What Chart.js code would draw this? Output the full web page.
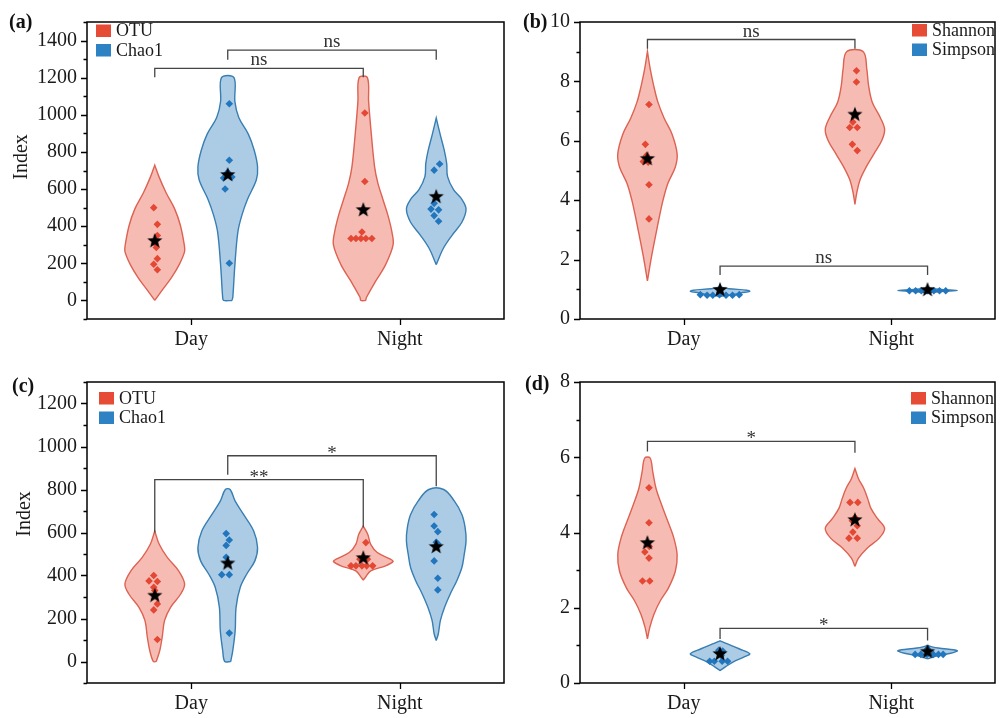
<!DOCTYPE html>
<html>
<head>
<meta charset="utf-8">
<script src="https://cdn.jsdelivr.net/npm/chart.js@4.4.0/dist/chart.umd.min.js"></script>
<style>
  body { margin: 0; background: #fff; width: 1001px; height: 718px; overflow: hidden; position: relative; }
  .panel { position: absolute; }
</style>
</head>
<body>
<div class="panel" style="left:0;top:0"><canvas id="pa" width="510" height="360"></canvas></div>
<div class="panel" style="left:510px;top:0"><canvas id="pb" width="491" height="360"></canvas></div>
<div class="panel" style="left:0;top:360px"><canvas id="pc" width="510" height="358"></canvas></div>
<div class="panel" style="left:510px;top:360px"><canvas id="pd" width="491" height="358"></canvas></div>
<script>
// groups on the x axis and the two series of each panel
const groups = ["Day", "Night"];
const richSeries = ["OTU", "Chao1"];
const divSeries = ["Shannon", "Simpson"];

// every panel: order of violins = [series1 Day, series2 Day, series1 Night, series2 Night]

// (a)
const aLevels = [
  [0, 62, 123, 193, 263, 299, 404, 492, 580, 667, 729],
  [0, 17, 193, 369, 457, 544, 650, 720, 808, 896, 985, 1071, 1200],
  [0, 17, 105, 193, 299, 369, 457, 544, 632, 720, 896, 1071, 1200],
  [193, 281, 351, 421, 492, 544, 597, 667, 738, 808, 896, 983]
];
const aWidths = [
  [0, 0.28, 0.56, 0.82, 1.0, 0.99, 0.86, 0.67, 0.38, 0.14, 0],
  [0.14, 0.17, 0.24, 0.34, 0.47, 0.66, 0.96, 1.0, 0.89, 0.69, 0.37, 0.24, 0.21],
  [0.08, 0.11, 0.42, 0.75, 1.0, 0.96, 0.83, 0.66, 0.49, 0.38, 0.27, 0.18, 0.14],
  [0, 0.24, 0.53, 0.86, 1.0, 0.86, 0.58, 0.38, 0.35, 0.27, 0.13, 0]
];
const aPoints = [
  [500, 410, 350, 310, 285, 225, 195, 165],
  [1060, 755, 690, 675, 665, 660, 600, 200],
  [1010, 641, 369, 334, 334, 334, 334, 334],
  [735, 702, 560, 523, 492, 488, 457, 427]
];
const aJitter = [
  [-0.2, 0.5, 0.5, 0, 0.3, 0.5, -0.2, 0.5],
  [0.3, 0.3, 0, -0.3, 0.8, -0.8, -0.5, 0.3],
  [0.3, 0.3, -0.25, -2.35, -1.4, -0.45, 0.5, 1.65],
  [0.65, -0.4, 0, -0.4, -1, 0.45, -0.4, 0.45]
];
const aMeans = [320, 676, 487, 558];
const aBracketTop = [1250, 1349];
const aBracketLegs = [[1203, 1203], [1296, 1296]];
const aSig = ["ns", "ns"];

// (b)
const bLevels = [
  [1.28, 1.83, 2.38, 2.93, 3.48, 4.02, 4.57, 5.12, 5.56, 6.22, 6.77, 7.31, 7.86, 8.41, 9.01],
  [0.76, 0.82, 0.88, 0.93, 0.97, 1.02, 1.08],
  [3.86, 4.24, 4.68, 5.12, 5.56, 6.0, 6.38, 6.77, 7.31, 7.86, 8.41, 9.0],
  [0.89, 0.93, 0.96, 0.99, 1.03]
];
const bWidths = [
  [0, 0.09, 0.19, 0.3, 0.41, 0.53, 0.69, 0.94, 1.0, 0.83, 0.56, 0.35, 0.21, 0.095, 0],
  [0, 0.45, 0.7, 1.0, 0.9, 0.3, 0],
  [0, 0.06, 0.17, 0.38, 0.64, 0.9, 1.0, 0.86, 0.58, 0.46, 0.4, 0.28],
  [0, 0.55, 1.0, 0.55, 0]
];
const bPoints = [
  [7.22, 5.88, 5.5, 5.35, 5.3, 5.28, 4.52, 3.37],
  [0.82, 0.8, 0.8, 0.82, 0.8, 0.8, 0.82, 0.9],
  [8.36, 7.98, 6.9, 6.63, 6.45, 6.45, 5.88, 5.67],
  [0.95, 0.95, 0.95, 0.95, 0.95, 0.95, 0.95, 1.0]
];
const bJitter = [
  [0.3, -0.4, -0.2, 0, -0.8, 0.15, 0.3, 0.3],
  [-3.8, -2.5, -1.4, -0.1, 1.15, 2.4, 3.7, 0],
  [0.3, 0.3, 0, -0.4, -1, 0.45, -0.5, 0.45],
  [-3.5, -2.3, -1.2, 0, 1.2, 2.3, 3.5, 0]
];
const bMeans = [5.39, 0.98, 6.88, 0.98];
const bBracketTop = [9.41, 1.78];
const bBracketLegs = [[9.1, 9.1], [1.48, 1.48]];
const bSig = ["ns", "ns"];

// (c)
const cLevels = [
  [0, 52, 114, 191, 252, 314, 361, 422, 484, 545, 607],
  [0, 52, 145, 252, 345, 407, 468, 530, 607, 684, 746, 800],
  [379, 391, 422, 445, 465, 476, 507, 545, 592, 630],
  [98, 129, 191, 252, 314, 376, 437, 499, 561, 622, 684, 746, 800]
];
const cWidths = [
  [0.05, 0.17, 0.25, 0.33, 0.53, 0.87, 1.0, 0.8, 0.42, 0.15, 0],
  [0.1, 0.17, 0.25, 0.28, 0.42, 0.64, 0.91, 1.0, 0.87, 0.53, 0.25, 0.08],
  [0, 0.07, 0.25, 0.75, 1.0, 0.91, 0.47, 0.25, 0.15, 0],
  [0, 0.07, 0.14, 0.28, 0.47, 0.69, 0.86, 0.94, 1.0, 0.97, 0.86, 0.61, 0.25]
];
const cPoints = [
  [400, 375, 372, 345, 330, 268, 240, 102],
  [595, 565, 540, 485, 460, 404, 404, 132],
  [553, 476, 476, 445, 445, 445, 445, 445],
  [684, 630, 604, 555, 548, 468, 387, 333]
];
const cJitter = [
  [-0.2, -1.1, 0.5, -0.2, 0, 0.5, -0.2, 0.5],
  [-0.3, 0.3, -0.3, -0.3, 0, -1.15, 0.3, 0.3],
  [0.5, -0.65, 0.8, -2.35, -1.4, -0.25, 0.65, 1.8],
  [-0.4, -0.4, 0.3, 0, 0.3, -0.4, 0.3, 0.3]
];
const cMeans = [306, 456, 481, 533];
const cBracketTop = [846, 957];
const cBracketLegs = [[600, 625], [869, 815]];
const cSig = ["**", "*"];

// (d)
const dLevels = [
  [1.17, 1.48, 1.83, 2.18, 2.53, 2.97, 3.41, 3.85, 4.29, 4.73, 5.17, 5.61, 5.98],
  [0.33, 0.44, 0.55, 0.69, 0.78, 0.91, 1.04, 1.12],
  [3.1, 3.32, 3.59, 3.85, 4.11, 4.38, 4.64, 4.9, 5.17, 5.43, 5.7],
  [0.64, 0.73, 0.79, 0.86, 0.93, 0.99]
];
const dWidths = [
  [0, 0.08, 0.22, 0.43, 0.71, 0.94, 1.0, 0.89, 0.69, 0.48, 0.29, 0.18, 0.09],
  [0, 0.2, 0.42, 0.8, 1.0, 0.64, 0.25, 0],
  [0, 0.12, 0.42, 0.82, 1.0, 0.75, 0.54, 0.43, 0.3, 0.12, 0],
  [0, 0.36, 0.78, 1.0, 0.36, 0]
];
const dPoints = [
  [5.19, 4.26, 3.7, 3.63, 3.48, 3.32, 2.71, 2.71],
  [0.87, 0.85, 0.78, 0.73, 0.58, 0.58, 0.58, 0.58],
  [4.8, 4.8, 4.4, 4.31, 4.18, 4.01, 3.85, 3.85],
  [0.91, 0.87, 0.76, 0.76, 0.76, 0.76, 0.76, 0.76]
];
const dJitter = [
  [0.3, 0.3, 0, 0.35, -0.5, 0.3, -0.95, 0.45],
  [-0.25, 0.5, 0, 0.2, -2, -1.1, 0.4, 1.45],
  [-0.95, 0.55, 0, -0.5, 0.45, -0.4, -1.15, 0.45],
  [0, 0, -2.4, -1.3, -0.1, 1.1, 2.1, 3.0]
];
const dMeans = [3.72, 0.77, 4.33, 0.83];
const dBracketTop = [6.42, 1.45];
const dBracketLegs = [[6.15, 6.12], [1.17, 1.13]];
const dSig = ["*", "*"];

// ---- drawing ----
const OFFSET = 0.175;  // violin centre offset from the group tick
const HALF = 0.143;    // widest half width of a violin, in x units
const JIT = 0.025;     // one step of point dodge
const SERIF = "'Liberation Serif', 'Times New Roman', serif";

const RED = { fill: "rgba(236,112,96,0.47)", line: "rgb(221,98,82)", dot: "rgb(228,72,52)", key: "rgb(230,75,53)" };
const BLUE = { fill: "rgba(70,142,200,0.45)", line: "rgb(56,126,178)", dot: "rgb(33,118,190)", key: "rgb(45,130,195)" };

Chart.defaults.font.family = SERIF;
Chart.defaults.font.size = 20;
Chart.defaults.color = "#1a1a1a";

function starImage(r) {
  const c = document.createElement("canvas");
  const s = Math.ceil(r * 2 + 2);
  c.width = s; c.height = s;
  const g = c.getContext("2d");
  g.beginPath();
  for (let i = 0; i < 10; i++) {
    const a = -Math.PI / 2 + i * Math.PI / 5;
    const rr = i % 2 ? r * 0.42 : r;
    g.lineTo(s / 2 + rr * Math.cos(a), s / 2 + rr * Math.sin(a));
  }
  g.closePath();
  g.fillStyle = "#000";
  g.fill();
  return c;
}
const STAR = starImage(8);

function isMajor(v, major) {
  const q = v / major;
  return Math.abs(q - Math.round(q)) < 1e-6;
}

function makePanel(id, p) {
  const datasets = [];

  for (let k = 0; k < 4; k++) {
    const s = k % 2;
    const g = Math.floor(k / 2) + 1;
    const cx = g + (s ? OFFSET : -OFFSET);
    const col = s ? BLUE : RED;
    const lv = p.levels[k], wd = p.widths[k];

    // outline: right side upwards, left side downwards, closed
    const outline = [];
    lv.forEach((y, i) => outline.push({ x: cx + wd[i] * HALF, y: y }));
    for (let i = lv.length - 1; i >= 0; i--) outline.push({ x: cx - wd[i] * HALF, y: lv[i] });
    outline.push(outline[0]);

    datasets.push({
      data: outline, borderColor: col.line, backgroundColor: col.fill,
      borderWidth: 1.4, fill: "shape", tension: 0.35, pointRadius: 0, order: 5
    });
    datasets.push({
      data: p.points[k].map((y, i) => ({ x: cx + p.jitter[k][i] * JIT, y: y })),
      showLine: false, pointStyle: "rectRot", pointRadius: 3.8,
      pointBackgroundColor: col.dot, pointBorderWidth: 0, order: 3
    });
    datasets.push({
      data: [{ x: cx, y: p.means[k] }],
      showLine: false, pointStyle: STAR, pointRadius: 5, order: 1
    });
  }

  // significance brackets between Day and Night of the same series
  p.bracketTop.forEach((top, s) => {
    const x1 = 1 + (s ? OFFSET : -OFFSET);
    const x2 = 2 + (s ? OFFSET : -OFFSET);
    datasets.push({
      data: [{ x: x1, y: p.bracketLegs[s][0] }, { x: x1, y: top }, { x: x2, y: top }, { x: x2, y: p.bracketLegs[s][1] }],
      borderColor: "#454545", borderWidth: 1.3, pointRadius: 0, fill: false, tension: 0, order: 4
    });
  });

  const decor = {
    id: "decor",
    afterDatasetsDraw(chart) {
      const ctx = chart.ctx;
      const a = chart.chartArea;
      const xs = chart.scales.x, ys = chart.scales.y;
      ctx.save();

      // frame
      ctx.strokeStyle = "#000";
      ctx.lineWidth = 1.5;
      ctx.strokeRect(a.left, a.top, a.right - a.left, a.bottom - a.top);

      // tick marks, outward
      ctx.lineWidth = 1.3;
      ctx.beginPath();
      ys.ticks.forEach(t => {
        const y = Math.round(ys.getPixelForValue(t.value)) + 0.5;
        const len = isMajor(t.value, p.major) ? 6 : 3.5;
        ctx.moveTo(a.left, y);
        ctx.lineTo(a.left - len, y);
      });
      xs.ticks.forEach(t => {
        const x = Math.round(xs.getPixelForValue(t.value)) + 0.5;
        ctx.moveTo(x, a.bottom);
        ctx.lineTo(x, a.bottom + 6);
      });
      ctx.stroke();

      // significance labels
      ctx.fillStyle = "#333";
      ctx.font = "19px " + SERIF;
      ctx.textAlign = "center";
      ctx.textBaseline = "alphabetic";
      p.sig.forEach((txt, s) => {
        const xm = 1.5 + (s ? OFFSET : -OFFSET);
        const px = xs.getPixelForValue(xm);
        const py = ys.getPixelForValue(p.bracketTop[s]);
        const m = ctx.measureText(txt);
        ctx.fillText(txt, px, py - 3 - m.actualBoundingBoxDescent);
      });

      // legend
      ctx.textAlign = "left";
      ctx.textBaseline = "middle";
      ctx.font = "18px " + SERIF;
      p.series.forEach((name, i) => {
        const y = p.legend[1] + i * 19.5;
        ctx.fillStyle = i ? BLUE.key : RED.key;
        ctx.fillRect(p.legend[0], y, 15, 12.5);
        ctx.fillStyle = "#1a1a1a";
        ctx.fillText(name, p.legend[0] + 20, y + 7);
      });

      // panel letter
      ctx.font = "bold 20px " + SERIF;
      ctx.fillStyle = "#111";
      ctx.fillText(p.letter, p.letterPos[0], p.letterPos[1]);

      // y title
      if (p.yTitle) {
        ctx.save();
        ctx.translate(p.yTitlePos[0], p.yTitlePos[1]);
        ctx.rotate(-Math.PI / 2);
        ctx.textAlign = "center";
        ctx.font = "20px " + SERIF;
        ctx.fillStyle = "#1a1a1a";
        ctx.fillText(p.yTitle, 0, 0);
        ctx.restore();
      }
      ctx.restore();
    }
  };

  return new Chart(document.getElementById(id), {
    type: "line",
    data: { datasets: datasets },
    options: {
      responsive: false,
      animation: false,
      events: [],
      layout: { padding: { left: 0, top: p.padTop, right: p.padRight, bottom: 0 } },
      plugins: { legend: { display: false }, tooltip: { enabled: false } },
      scales: {
        x: {
          type: "linear", min: 0.5, max: 2.5,
          grid: { display: false, drawTicks: false },
          border: { display: false },
          afterBuildTicks: s => { s.ticks = groups.map((g, i) => ({ value: i + 1 })); },
          afterFit: s => { s.height = p.xHeight; },
          ticks: {
            autoSkip: false, maxRotation: 0, padding: 9,
            callback: v => groups[Math.round(v) - 1] || ""
          }
        },
        y: {
          type: "linear", min: p.yMin, max: p.yMax,
          grid: { display: false, drawTicks: false },
          border: { display: false },
          afterFit: s => { s.width = p.yWidth; },
          ticks: {
            autoSkip: false, stepSize: p.step, padding: 10,
            callback: v => (v >= 0 && isMajor(v, p.major)) ? String(v) : ""
          }
        }
      }
    },
    plugins: [decor]
  });
}

makePanel("pa", {
  levels: aLevels, widths: aWidths, points: aPoints, jitter: aJitter, means: aMeans,
  bracketTop: aBracketTop, bracketLegs: aBracketLegs, sig: aSig, series: richSeries,
  yMin: -100, yMax: 1500, step: 100, major: 200,
  padTop: 15, padRight: 2, yWidth: 87, xHeight: 41,
  legend: [96, 24.5], letter: "(a)", letterPos: [9, 23], yTitle: "Index", yTitlePos: [22, 157]
});
makePanel("pb", {
  levels: bLevels, widths: bWidths, points: bPoints, jitter: bJitter, means: bMeans,
  bracketTop: bBracketTop, bracketLegs: bBracketLegs, sig: bSig, series: divSeries,
  yMin: 0, yMax: 10, step: 1, major: 2,
  padTop: 15, padRight: 1, yWidth: 70, xHeight: 41,
  legend: [402, 24], letter: "(b)", letterPos: [13, 23], yTitle: null
});
makePanel("pc", {
  levels: cLevels, widths: cWidths, points: cPoints, jitter: cJitter, means: cMeans,
  bracketTop: cBracketTop, bracketLegs: cBracketLegs, sig: cSig, series: richSeries,
  yMin: -100, yMax: 1300, step: 100, major: 200,
  padTop: 19, padRight: 2, yWidth: 87, xHeight: 35,
  legend: [99, 32], letter: "(c)", letterPos: [12, 27], yTitle: "Index", yTitlePos: [25, 154]
});
makePanel("pd", {
  levels: dLevels, widths: dWidths, points: dPoints, jitter: dJitter, means: dMeans,
  bracketTop: dBracketTop, bracketLegs: dBracketLegs, sig: dSig, series: divSeries,
  yMin: 0, yMax: 8, step: 1, major: 2,
  padTop: 19, padRight: 1, yWidth: 70, xHeight: 35,
  legend: [401, 32], letter: "(d)", letterPos: [15, 25], yTitle: null
});
</script>
</body>
</html>
